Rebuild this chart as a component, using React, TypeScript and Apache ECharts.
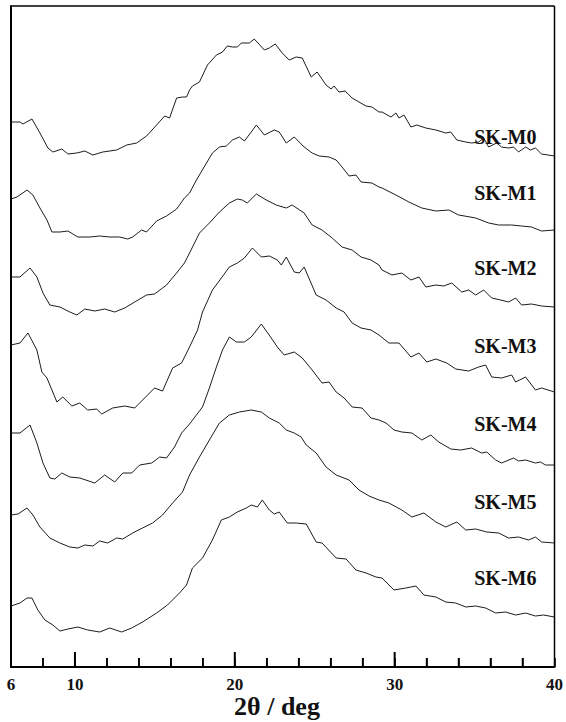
import React, { useEffect, useRef } from 'react';
import * as echarts from 'echarts';

// Sample names (top to bottom)
const sampleNames = ['SK-M0', 'SK-M1', 'SK-M2', 'SK-M3', 'SK-M4', 'SK-M5', 'SK-M6'];

// [2θ (deg), intensity + vertical offset (arb.)]
const skM0: [number, number][] = [
  [6.0, 545], [6.56, 545], [6.75, 543], [7.31, 548], [7.81, 534], [8.31, 519], [8.62, 515], [9.18, 518],
  [9.56, 513], [10.12, 514], [10.62, 516], [11.12, 512], [11.74, 515], [12.61, 517], [13.24, 522], [13.86, 524],
  [14.48, 531], [15.11, 542], [15.61, 551], [15.92, 549], [16.36, 569], [16.73, 570], [16.98, 570], [17.17, 577],
  [17.35, 581], [17.79, 585], [18.29, 602], [18.85, 612], [19.23, 615], [19.53, 621], [19.85, 620], [20.16, 620],
  [20.41, 624], [20.91, 624], [21.22, 628], [21.85, 617], [22.16, 619], [22.53, 623], [22.97, 614], [23.4, 607],
  [23.84, 610], [24.22, 609], [24.78, 590], [25.15, 595], [25.71, 582], [26.03, 578], [26.21, 581], [26.52, 575],
  [26.9, 576], [27.34, 569], [27.77, 565], [28.21, 561], [28.58, 560], [29.02, 555], [29.21, 555], [29.77, 550],
  [30.08, 554], [30.27, 549], [30.58, 552], [31.02, 540], [31.39, 542], [31.95, 539], [32.58, 537], [33.2, 534],
  [33.51, 535], [33.89, 527], [34.45, 525], [34.82, 524], [35.26, 525], [35.57, 529], [35.88, 520], [36.38, 524],
  [36.69, 520], [37.13, 519], [37.44, 520], [37.75, 515], [38.19, 520], [38.5, 517], [38.81, 519], [39.19, 513],
  [40.0, 511],
];
const skM1: [number, number][] = [
  [6.0, 468], [6.37, 470], [7.0, 477], [7.37, 472], [7.81, 459], [8.25, 447], [8.56, 435], [9.06, 435],
  [9.56, 436], [10.18, 430], [10.93, 430], [11.55, 431], [12.18, 430], [12.8, 430], [13.3, 428], [13.61, 430],
  [14.17, 437], [14.48, 435], [15.11, 446], [15.73, 451], [16.36, 458], [16.54, 462], [16.85, 469], [17.17, 474],
  [17.6, 487], [18.23, 504], [18.6, 514], [19.04, 520], [19.47, 521], [19.85, 527], [20.29, 530], [20.6, 526],
  [21.03, 535], [21.35, 542], [21.85, 532], [22.47, 537], [22.78, 535], [23.22, 524], [23.72, 530], [24.34, 520],
  [24.84, 514], [25.28, 511], [25.9, 510], [26.34, 507], [26.71, 500], [27.15, 491], [27.58, 492], [27.9, 485],
  [28.58, 484], [29.02, 480], [29.21, 479], [30.08, 472], [30.89, 465], [31.7, 459], [32.58, 456], [33.39, 457],
  [34.01, 452], [35.07, 449], [35.88, 444], [36.51, 442], [37.32, 442], [37.94, 441], [38.56, 440], [39.19, 436],
  [40.0, 437],
];
const skM2: [number, number][] = [
  [6.0, 390], [6.56, 390], [7.19, 399], [7.62, 390], [8.0, 374], [8.43, 362], [9.06, 360], [9.68, 355],
  [10.12, 352], [10.62, 358], [11.24, 356], [11.86, 358], [12.49, 355], [13.11, 359], [13.74, 365], [14.48, 372],
  [14.98, 373], [15.73, 382], [16.36, 394], [16.85, 404], [17.17, 414], [17.79, 434], [18.41, 444], [19.04, 455],
  [19.66, 464], [20.16, 468], [20.47, 467], [20.78, 464], [21.35, 473], [21.97, 467], [22.59, 462], [23.22, 459],
  [23.59, 462], [24.34, 454], [24.84, 442], [25.46, 437], [26.09, 429], [26.71, 420], [27.34, 417], [27.9, 410],
  [28.52, 407], [29.02, 402], [29.21, 397], [29.83, 392], [30.45, 394], [31.02, 387], [31.52, 390], [31.95, 380],
  [32.58, 382], [33.07, 381], [33.57, 384], [34.2, 375], [34.63, 377], [35.07, 372], [35.57, 377], [36.07, 369],
  [36.63, 367], [37.13, 365], [37.57, 369], [37.94, 362], [38.56, 363], [39.19, 361], [40.0, 360],
];
const skM3: [number, number][] = [
  [6.0, 322], [6.56, 324], [7.06, 334], [7.62, 317], [7.93, 295], [8.25, 289], [8.87, 265], [9.24, 270],
  [9.81, 261], [10.3, 264], [10.8, 257], [11.36, 258], [11.68, 253], [12.36, 259], [13.11, 261], [13.74, 259],
  [14.36, 269], [14.98, 279], [15.48, 276], [16.11, 299], [16.67, 304], [17.17, 320], [17.67, 337], [17.98, 355],
  [18.6, 377], [19.16, 389], [19.66, 400], [20.16, 404], [20.6, 409], [21.1, 419], [21.66, 410], [22.16, 411],
  [22.66, 407], [22.91, 402], [23.22, 410], [23.72, 395], [24.03, 394], [24.34, 400], [25.09, 372], [25.71, 367],
  [26.34, 359], [26.84, 355], [27.34, 344], [27.9, 339], [28.52, 337], [29.02, 332], [29.64, 324], [30.27, 324],
  [31.02, 310], [31.52, 314], [32.01, 305], [32.58, 308], [33.26, 304], [33.82, 298], [34.63, 296], [35.26, 300],
  [35.69, 302], [36.07, 290], [36.69, 289], [37.32, 292], [37.57, 285], [38.19, 290], [38.81, 277], [39.19, 279],
  [40.0, 275],
];
const skM4: [number, number][] = [
  [6.0, 234], [6.56, 234], [7.19, 242], [7.62, 224], [8.0, 204], [8.43, 189], [8.74, 188], [9.18, 194],
  [9.68, 190], [10.3, 189], [11.24, 184], [11.86, 192], [12.49, 185], [12.99, 194], [13.55, 194], [14.05, 202],
  [14.8, 204], [15.3, 210], [15.73, 209], [16.23, 220], [16.67, 234], [17.17, 243], [17.98, 260], [18.41, 279],
  [18.85, 300], [19.23, 317], [19.66, 330], [20.1, 325], [20.6, 325], [21.03, 330], [21.66, 343], [22.28, 329],
  [22.66, 320], [23.09, 312], [23.72, 315], [24.22, 309], [24.84, 297], [25.46, 284], [25.9, 285], [26.34, 275],
  [26.84, 269], [27.34, 260], [27.96, 259], [28.52, 249], [29.02, 247], [29.46, 244], [29.96, 237], [30.45, 235],
  [31.08, 234], [31.7, 227], [32.26, 232], [32.76, 225], [33.51, 218], [34.13, 217], [34.82, 219], [35.44, 214],
  [35.76, 215], [36.32, 207], [36.69, 204], [37.44, 209], [37.75, 206], [38.19, 207], [38.81, 204], [39.12, 205],
  [39.44, 202], [40.0, 202],
];
const skM5: [number, number][] = [
  [6.0, 152], [6.44, 153], [7.0, 159], [7.37, 152], [7.81, 140], [8.43, 129], [9.06, 124], [9.68, 120],
  [10.18, 119], [10.62, 122], [11.12, 121], [11.55, 126], [12.05, 124], [12.61, 129], [12.99, 128], [13.61, 134],
  [14.23, 139], [14.86, 144], [15.48, 152], [16.11, 164], [16.73, 175], [17.17, 192], [17.79, 210], [18.41, 227],
  [19.04, 244], [19.66, 252], [20.29, 255], [21.03, 257], [21.66, 255], [22.16, 249], [22.78, 244], [23.22, 237],
  [23.72, 234], [24.15, 230], [24.47, 222], [25.09, 214], [25.71, 200], [26.34, 192], [27.15, 187], [27.77, 177],
  [28.4, 171], [29.02, 167], [29.64, 164], [30.45, 157], [31.08, 150], [31.83, 154], [32.58, 145], [33.2, 140],
  [33.89, 145], [34.45, 137], [35.07, 138], [35.76, 135], [36.51, 134], [37.13, 129], [37.75, 130], [38.38, 127],
  [38.81, 130], [39.19, 125], [40.0, 124],
];
const skM6: [number, number][] = [
  [6.0, 61], [6.56, 64], [7.0, 69], [7.31, 69], [7.68, 57], [8.12, 47], [8.62, 42], [9.06, 36],
  [9.56, 38], [10.18, 40], [10.8, 37], [11.55, 35], [12.18, 39], [12.92, 35], [13.55, 39], [14.23, 45],
  [15.11, 54], [15.79, 62], [16.54, 74], [16.98, 82], [17.35, 99], [17.98, 109], [18.6, 127], [19.16, 147],
  [19.66, 150], [20.16, 155], [20.72, 159], [21.03, 162], [21.41, 160], [21.72, 167], [22.16, 157], [22.47, 153],
  [22.78, 155], [23.28, 144], [23.84, 144], [24.47, 143], [25.09, 125], [25.46, 124], [26.34, 109], [26.96, 108],
  [27.58, 97], [28.21, 94], [28.83, 90], [29.21, 89], [29.96, 77], [30.7, 79], [31.33, 81], [31.83, 72],
  [32.58, 70], [33.2, 65], [33.82, 64], [34.45, 60], [35.07, 61], [35.69, 59], [36.32, 54], [36.94, 55],
  [37.57, 52], [38.19, 54], [38.81, 51], [39.31, 52], [40.0, 50],
];

const seriesData = [skM0, skM1, skM2, skM3, skM4, skM5, skM6];

// Axis ticks / labels (2θ, deg)
const xMin = 6;
const xMax = 40;
const xMinorInterval = 2;
const xTickLabels = [6, 10, 20, 30, 40];
const minorTicks = [8, 12, 14, 16, 18, 22, 24, 26, 28, 32, 34, 36, 38];
const majorTicks = [10, 20, 30];
const xAxisTitle = '2θ / deg';
const yMin = 0;
const yMax = 661;

// Label vertical positions (in intensity units, same scale as data)
const labelLevels = [530, 474, 399, 321, 243, 165, 89];
const labelX = 38.9;

const SERIF = '"Liberation Serif", "Times New Roman", serif';

export default function App() {
  const ref = useRef<HTMLDivElement>(null);

  useEffect(() => {
    document.body.style.margin = '0';
    const chart = echarts.init(ref.current!, null, { renderer: 'svg' });

    const series: any[] = seriesData.map((d, i) => ({
      type: 'line',
      name: sampleNames[i],
      data: d,
      showSymbol: false,
      symbol: 'none',
      lineStyle: { color: '#1c1c1c', width: 1 },
      markPoint: {
        symbol: 'rect',
        symbolSize: 1,
        itemStyle: { color: 'rgba(0,0,0,0)' },
        label: {
          show: true,
          formatter: sampleNames[i],
          position: 'left',
          distance: 0,
          color: '#111',
          fontFamily: SERIF,
          fontWeight: 'bold',
          fontSize: 20,
        },
        data: [{ coord: [labelX, labelLevels[i]] }],
      },
    }));

    // Frame (top and right edges) plus all bottom ticks, drawn through the axes' scales
    series.push({
      type: 'custom',
      clip: false,
      z: 20,
      data: [[xMax, yMax]],
      encode: { x: 0, y: 1 },
      renderItem: (params: any, api: any) => {
        const tl = api.coord([xMin, yMax]);
        const tr = api.coord([xMax, yMax]);
        const br = api.coord([xMax, yMin]);
        const children: any[] = [
          { type: 'line', shape: { x1: tl[0], y1: tl[1], x2: tr[0], y2: tr[1] }, style: { stroke: '#000', lineWidth: 1.5 } },
          { type: 'line', shape: { x1: tr[0], y1: tr[1], x2: br[0], y2: br[1] }, style: { stroke: '#000', lineWidth: 1.5 } },
        ];
        minorTicks.forEach((v) => {
          const p = api.coord([v, yMin]);
          children.push({
            type: 'line',
            shape: { x1: p[0], y1: p[1], x2: p[0], y2: p[1] - 9 },
            style: { stroke: '#000', lineWidth: 1.6 },
          });
        });
        majorTicks.forEach((v) => {
          const p = api.coord([v, yMin]);
          children.push({
            type: 'line',
            shape: { x1: p[0], y1: p[1], x2: p[0], y2: p[1] - 15 },
            style: { stroke: '#000', lineWidth: 2 },
          });
        });
        return { type: 'group', children };
      },
    });

    chart.setOption({
      animation: false,
      grid: { left: 11, right: 11, top: 6, bottom: 55 },
      xAxis: {
        type: 'value',
        min: xMin,
        max: xMax,
        interval: xMinorInterval,
        axisLine: { onZero: false, lineStyle: { color: '#000', width: 2 } },
        axisTick: { show: true, inside: true, length: 9, lineStyle: { color: '#000', width: 1.6 } },
        axisLabel: {
          color: '#111',
          fontFamily: SERIF,
          fontWeight: 'bold',
          fontSize: 17,
          margin: 9,
          showMinLabel: true,
          showMaxLabel: true,
          hideOverlap: false,
          formatter: (v: number) => (xTickLabels.indexOf(v) >= 0 ? String(v) : ''),
        },
        splitLine: { show: false },
      },
      yAxis: {
        type: 'value',
        min: yMin,
        max: yMax,
        axisLine: { show: true, onZero: false, lineStyle: { color: '#000', width: 2 } },
        axisLabel: { show: false },
        axisTick: { show: false },
        splitLine: { show: false },
      },
      graphic: [
        {
          type: 'text',
          x: 277,
          y: 706,
          style: {
            text: xAxisTitle,
            font: `bold 26px ${SERIF}`,
            fill: '#111',
            align: 'center',
            verticalAlign: 'middle',
            textAlign: 'center',
            textVerticalAlign: 'middle',
          },
        },
      ],
      series,
    });

    return () => chart.dispose();
  }, []);

  return <div ref={ref} style={{ width: 566, height: 722 }} />;
}
